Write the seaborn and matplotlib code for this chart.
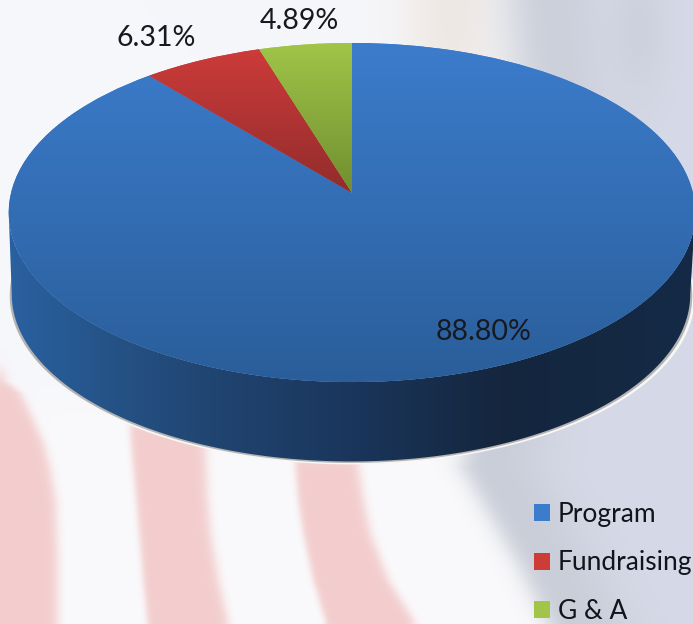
import numpy as np
import seaborn as sns
import matplotlib
matplotlib.use("Agg")
import matplotlib.pyplot as plt
from matplotlib.patches import Polygon
from matplotlib.transforms import Transform

labels = ["Program", "Fundraising", "G & A"]
shares = [88.80, 6.31, 4.89]
share_labels = ["88.80%", "6.31%", "4.89%"]

sns.set_theme(style="white")
plt.rcParams['font.family'] = ['Lato', 'DejaVu Sans']

W, H = 693, 624
top_colors = sns.color_palette(["#3c7ccc", "#ce3c3a", "#a0c548"])
top_colors = [np.array(c) for c in top_colors]
low_colors = [np.array(c) / 255 for c in [(42, 94, 154), (146, 44, 44), (112, 142, 48)]]
low_y = [382, 193, 193]


class Tilt(Transform):
    # flat circle -> what the pie looks like from above, apex sits above the middle
    input_dims = 2
    output_dims = 2

    def __init__(self, a, b, k, cx, cy):
        super().__init__()
        self.a, self.b, self.k, self.cx, self.cy = a, b, k, cx, cy

    def transform_non_affine(self, values):
        u, v = values[:, 0], values[:, 1]
        d = 1 + self.k * v
        return np.column_stack([self.cx + self.a * u / d, self.cy - self.b * v / d])


fig = plt.figure(figsize=(W / 100, H / 100), dpi=100)
ax = fig.add_axes([0, 0, 1, 1])

### background, washed out flag ###
X, Y = np.meshgrid(np.arange(W), np.arange(H))


def step(t, s=8.0):
    return 0.5 * (1 + np.tanh(t / s))


def mix(img, col, m):
    m = m[..., None]
    return img * (1 - m) + np.array(col, dtype=float) * m


bg = np.ones((H, W, 3)) * np.array([246, 247, 251.0])
bg = mix(bg, (250, 250, 252), step(Y - 400, 40))
# warm patch then grey cloth on the right
bg = mix(bg, (238, 231, 225), 0.9 * np.exp(-((X - 450) / 50.0) ** 2) * step(90 - Y, 30))
grey_edge = np.interp(Y, [0, 120, 467, 567, 624], [510, 520, 462, 520, 548])
soft = np.interp(Y, [0, 200, 467, 624], [28, 28, 14, 14])
bg = mix(bg, (200, 204, 214), step(X - grey_edge, soft))
bg = mix(bg, (214, 217, 231), step(X - grey_edge - 70, 40))
bg = mix(bg, (198, 202, 212), 0.5 * np.exp(-((X - 640) / 30.0) ** 2) * np.exp(-((Y - 30) / 70.0) ** 2))
# red stripes
stripes = [
    ([380, 393, 420, 443, 470, 500, 560, 620], [-40] * 8, [5, 20, 33, 43, 50, 55, 57, 57], 372),
    ([433, 500, 533, 580, 620], [130, 136, 139, 143, 147], [204, 207, 210, 218, 227], 415),
    ([467, 500, 533, 580, 620], [295, 298, 303, 313, 325], [358, 363, 370, 388, 413], 450),
]
for ys, left, right, y0 in stripes:
    s = step(X - np.interp(Y, ys, left), 4) * step(np.interp(Y, ys, right) - X, 6) * step(Y - y0, 10)
    bg = mix(bg, (243, 205, 205), s)
ax.imshow(bg / 255, extent=[0, W, H, 0], aspect='auto', zorder=0)

### the pie ###
tilt = Tilt(341, 167.3, 0.115, 352, 193)
wedges, _ = ax.pie(shares, colors=top_colors, startangle=90, counterclock=False, radius=1)

### side wall ###
base = Tilt(337, 165, 0.115, 351, 275)
t = np.radians(np.linspace(186.6, 353.4, 300))
unit = np.column_stack([np.cos(t), np.sin(t)])
outline = np.vstack([base.transform(unit), tilt.transform(unit)[::-1]])

# light rim round the bottom of the wall
t2 = np.radians(np.linspace(172, 368, 300))
low = base.transform(np.column_stack([np.cos(t2), np.sin(t2)]))
for fx, dy, shade, z in [(1.013, 3.0, 0.97, 1), (1.006, 1.5, 0.70, 1.1)]:
    rim = low.copy()
    rim[:, 0] = 351 + (rim[:, 0] - 351) * fx
    rim[:, 1] += dy
    ax.add_patch(Polygon(rim, closed=True, fc=(shade, shade, shade), ec='none', zorder=z))

wall = Polygon(outline, closed=True, fc='none', ec='none', zorder=1.2)
ax.add_patch(wall)
xs = np.arange(W)
stops = [0, 130, 200, 350, 500, 693]
wall_rgb = np.column_stack([
    np.interp(xs, stops, [42, 36, 33, 26, 21, 20]),
    np.interp(xs, stops, [98, 80, 70, 54, 38, 42]),
    np.interp(xs, stops, [162, 130, 115, 92, 62, 70]),
]) / 255
im = ax.imshow(wall_rgb[None, :, :], extent=[0, W, 480, 200], aspect='auto', zorder=1.3)
im.set_clip_path(wall)

for w, c1, c2, y2 in zip(wedges, top_colors, low_colors, low_y):
    w.set_transform(tilt + ax.transData)
    w.set_edgecolor('none')
    w.set_zorder(2)
    grad = np.linspace(c1, c2, 200)[:, None, :]
    im = ax.imshow(grad, extent=[0, W, y2, 43], aspect='auto', zorder=2.5)
    im.set_clip_path(w)

### labels ###
for s, (x, y) in zip(share_labels, [(484, 332), (156, 38), (299, 21)]):
    ax.text(x, y, s, fontsize=20.5, color='#16191f', ha='center', va='center', zorder=5)

ax.set_xlim(0, W)
ax.set_ylim(H, 0)
ax.set_aspect('auto')
ax.axis('off')

leg = ax.legend(wedges, labels, loc='upper left', bbox_to_anchor=(534 / W, 1 - 502 / H), frameon=False,
                fontsize=19, labelcolor='#11141a', handlelength=0.6, handleheight=0.6,
                labelspacing=0.89, handletextpad=0.3, borderpad=0, borderaxespad=0)

fig.savefig("out.png", dpi=100)
